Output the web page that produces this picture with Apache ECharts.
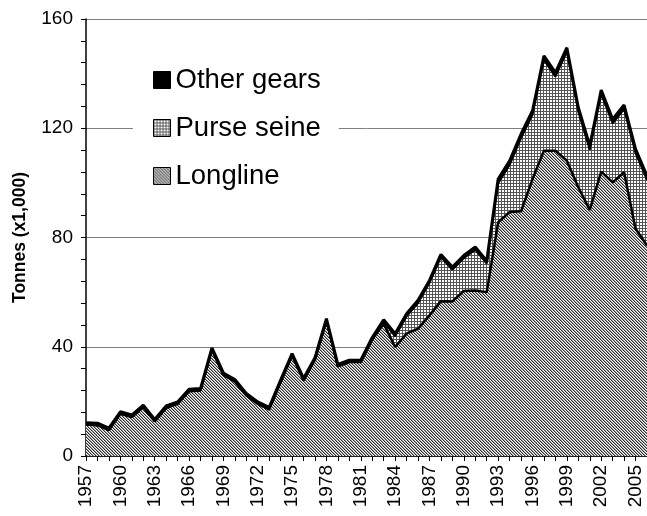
<!DOCTYPE html>
<html>
<head>
<meta charset="utf-8">
<script src="https://cdn.jsdelivr.net/npm/echarts@6/dist/echarts.min.js"></script>
<style>
  html, body { margin: 0; padding: 0; background: #fff; }
  #catch { width: 647px; height: 516px; }
</style>
</head>
<body>
<div id="catch"></div>
<script>
// years 1957 - 2006
var years = [];
for (var y = 1957; y <= 2006; y++) years.push(String(y));

var longline = [
  11.5, 11.3, 9.5, 15.5, 14.3, 17.9, 12.7, 17.6, 19.1, 23.7,
  24.0, 38.9, 29.7, 27.3, 22.2, 19.1, 17.1, 27.1, 36.8, 27.7,
  35.3, 49.6, 32.8, 34.4, 34.4, 42.7, 48.4, 39.9, 44.8, 46.6,
  51.5, 56.7, 56.6, 60.4, 60.6, 60.0, 85.6, 89.3, 89.6, 101.4,
  111.8, 111.8, 108.1, 98.4, 90.1, 104.1, 100.2, 103.9, 83.2, 77.1
];
var purseSeine = [
  0, 0, 0, 0, 0, 0, 0, 0, 0, 0,
  0, 0, 0, 0, 0, 0, 0, 0, 0, 0,
  0, 0, 0, 0, 0, 0, 0.8, 3.9, 6.3, 9.4,
  11.8, 16.1, 11.6, 12.0, 14.9, 10.4, 14.3, 17.3, 26.8, 23.5,
  33.2, 27.1, 39.9, 27.7, 22.0, 28.4, 21.6, 23.1, 27.7, 24.0
];
var otherGears = [
  0.7, 0.7, 0.7, 0.7, 0.7, 0.7, 0.7, 0.7, 0.7, 0.7,
  0.7, 0.7, 0.7, 0.7, 0.7, 0.7, 0.7, 0.7, 0.7, 0.7,
  0.7, 0.7, 0.7, 0.7, 0.7, 0.7, 0.7, 1, 1, 1,
  1, 1, 1, 1, 1, 1, 1.5, 1.5, 1.5, 1.5,
  1.5, 1.5, 1.5, 1.5, 1.5, 1.5, 1.5, 1.5, 1.5, 1.5
];
var legendOrder = ['Other gears', 'Purse seine', 'Longline'];

// fill patterns like the old excel ones
function hatch() {
  var c = document.createElement('canvas');
  c.width = 3; c.height = 3;
  var ctx = c.getContext('2d');
  var shades = ['#2a2a2a', '#a0a0a0', '#ffffff'];
  for (var x = 0; x < 3; x++) {
    for (var y = 0; y < 3; y++) {
      ctx.fillStyle = shades[((x - y) % 3 + 3) % 3];
      ctx.fillRect(x, y, 1, 1);
    }
  }
  return c;
}
function grid() {
  var c = document.createElement('canvas');
  c.width = 3; c.height = 3;
  var ctx = c.getContext('2d');
  ctx.fillStyle = '#fff';
  ctx.fillRect(0, 0, 3, 3);
  ctx.fillStyle = '#555';
  ctx.fillRect(0, 0, 3, 1);
  ctx.fillRect(0, 0, 1, 3);
  return c;
}

var hatchFill = { image: hatch(), repeat: 'repeat' };
var gridFill = { image: grid(), repeat: 'repeat' };

var chart = echarts.init(document.getElementById('catch'), null, { renderer: 'canvas' });
chart.setOption({
  animation: false,
  textStyle: { fontFamily: 'Liberation Sans, Arial, sans-serif' },
  grid: { left: 86, right: -1, top: 19, bottom: 60 },
  legend: {
    data: legendOrder,
    orient: 'vertical',
    left: 133,
    top: 56,
    padding: [10, 18, 10, 20],
    backgroundColor: '#fff',
    icon: 'rect',
    itemWidth: 17,
    itemHeight: 17,
    itemGap: 20,
    itemStyle: { borderColor: '#000', borderWidth: 1 },
    textStyle: { fontSize: 27.5, color: '#000' }
  },
  xAxis: {
    type: 'category',
    data: years,
    boundaryGap: false,
    axisLine: { lineStyle: { color: '#000', width: 1.5 } },
    axisTick: { interval: 0, length: 5, lineStyle: { color: '#000' } },
    axisLabel: { interval: 2, rotate: 90, fontSize: 19, color: '#000', margin: 9 },
    splitLine: { show: false }
  },
  yAxis: {
    type: 'value',
    min: 0,
    max: 160,
    interval: 40,
    name: 'Tonnes (x1,000)',
    nameLocation: 'middle',
    nameGap: 57,
    nameTextStyle: { fontSize: 17.5, fontWeight: 'bold', color: '#000' },
    axisLine: { show: true, lineStyle: { color: '#000', width: 1.5 } },
    axisTick: { show: true, length: 5, lineStyle: { color: '#000' } },
    minorTick: { show: true, splitNumber: 5, length: 5, lineStyle: { color: '#000' } },
    axisLabel: { fontSize: 19, color: '#000', margin: 13 },
    splitLine: { lineStyle: { color: '#808080', width: 1 } }
  },
  series: [
    {
      name: 'Longline',
      type: 'line',
      stack: 'catch',
      data: longline,
      symbol: 'none',
      color: hatchFill,
      lineStyle: { color: '#000', width: 2.5 },
      areaStyle: { color: hatchFill, opacity: 1 }
    },
    {
      name: 'Purse seine',
      type: 'line',
      stack: 'catch',
      data: purseSeine,
      symbol: 'none',
      color: gridFill,
      lineStyle: { color: '#000', width: 2 },
      areaStyle: { color: gridFill, opacity: 1 }
    },
    {
      name: 'Other gears',
      type: 'line',
      stack: 'catch',
      data: otherGears,
      symbol: 'none',
      color: '#000',
      lineStyle: { color: '#000', width: 3 },
      areaStyle: { color: '#000', opacity: 1 }
    }
  ]
});
</script>
</body>
</html>
